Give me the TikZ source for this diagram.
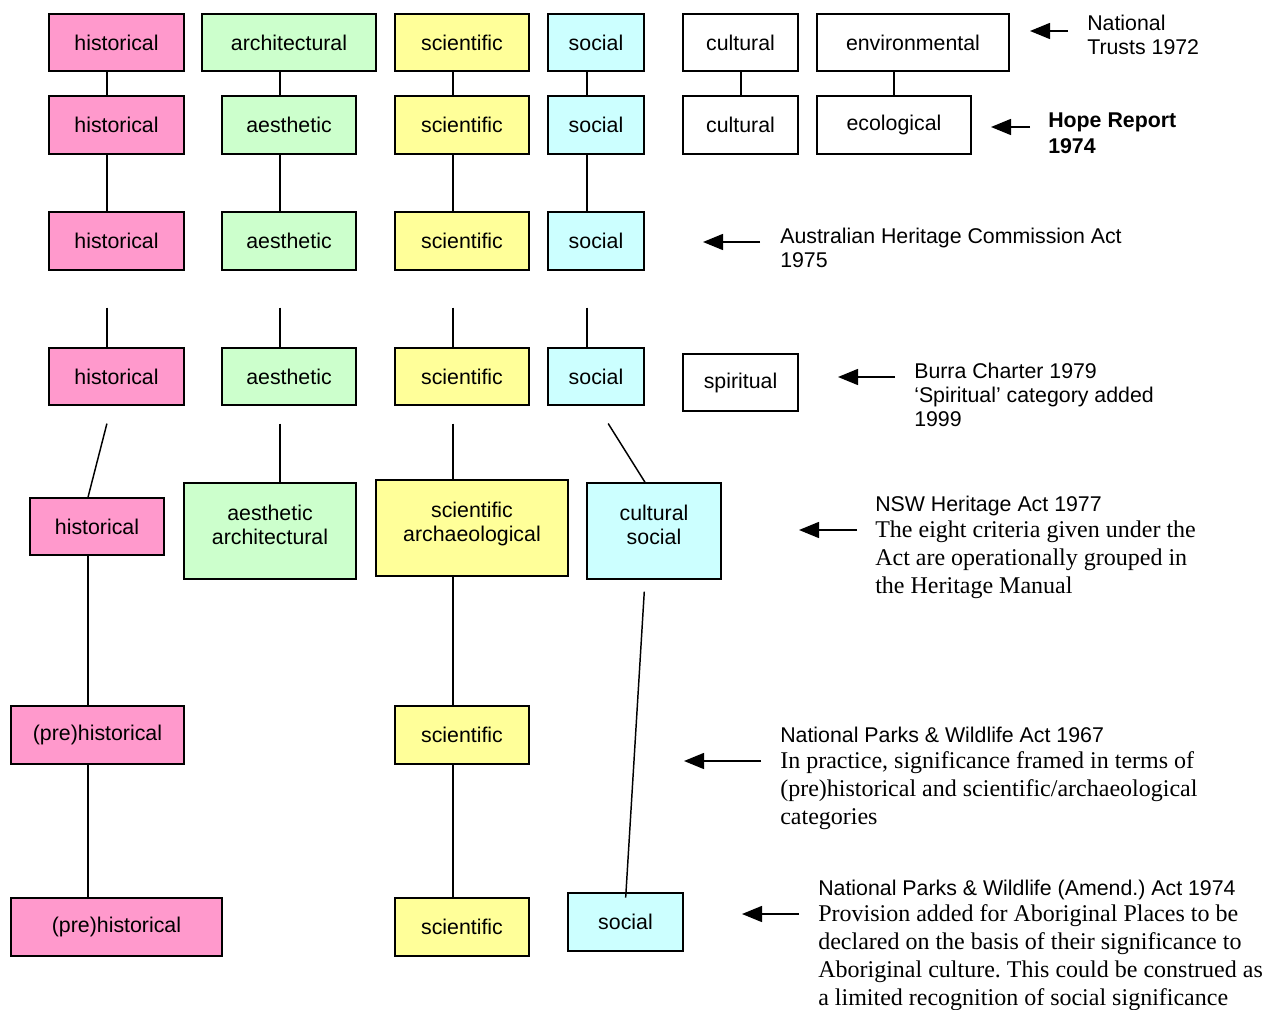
\documentclass[tikz,border=0pt]{standalone}
\usepackage{fontspec}
\setmainfont{Liberation Serif}
\setsansfont{Liberation Sans}
\usepackage{tikz}
\usetikzlibrary{arrows.meta}
\definecolor{pinkbox}{RGB}{255,153,204}
\definecolor{greenbox}{RGB}{204,255,204}
\definecolor{yellowbox}{RGB}{255,255,153}
\definecolor{cyanbox}{RGB}{204,255,255}
\frenchspacing

\begin{document}
\begin{tikzpicture}[x=0.75pt, y=-0.75pt,
    catbox/.style 2 args={draw, line width=1.1pt, inner sep=0pt, align=center,
        minimum width=#1*0.75pt, minimum height=#2*0.75pt,
        font=\sffamily\fontsize{16}{18}\selectfont},
    link/.style={line width=1.1pt},
    gaplink/.style={link, shorten <=#1*0.75pt},
    pointer/.style={line width=1.1pt, -{Triangle[length=15pt, width=12pt]}},
    note/.style={anchor=base west, inner sep=0pt, align=left,
        font=\sffamily\fontsize{16}{18}\selectfont},
    prose/.style={note, font=\rmfamily\fontsize{18}{21}\selectfont}]
    \useasboundingbox (0,0) rectangle (1279,1010);

    % columns of the connectors
    \coordinate (colH) at (107,0);
    \coordinate (colA) at (280,0);
    \coordinate (colS) at (453,0);
    \coordinate (colO) at (587,0);
    \coordinate (colC) at (741,0);
    \coordinate (colE) at (894,0);
    \coordinate (colP) at (88,0);
    \coordinate (colK) at (111.5,0);
    \coordinate (colQ) at (597,0);
    \coordinate (colR) at (645,0);
    \coordinate (colT) at (626,0);

    % National Trusts 1972
    \node[catbox={135}{57}, fill=pinkbox] (h1) at (116.5,42.5) {historical};
    \node[catbox={174}{57}, fill=greenbox] (ar1) at (289,42.5) {architectural};
    \node[catbox={134}{57}, fill=yellowbox] (sc1) at (462,42.5) {scientific};
    \node[catbox={96}{57}, fill=cyanbox] (so1) at (596,42.5) {social};
    \node[catbox={115}{57}] (cu1) at (740.5,42.5) {cultural};
    \node[catbox={192}{57}] (en1) at (913,42.5) {environmental};

    % Hope Report 1974
    \node[catbox={135}{58}, fill=pinkbox] (h2) at (116.5,125) {historical};
    \node[catbox={134}{58}, fill=greenbox] (ae2) at (289,125) {aesthetic};
    \node[catbox={134}{58}, fill=yellowbox] (sc2) at (462,125) {scientific};
    \node[catbox={96}{58}, fill=cyanbox] (so2) at (596,125) {social};
    \node[catbox={115}{58}] (cu2) at (740.5,125) {cultural};
    \node[catbox={154}{58}] (ec2) at (894,125) {ecological};

    % Australian Heritage Commission Act 1975
    \node[catbox={135}{58}, fill=pinkbox] (h3) at (116.5,241) {historical};
    \node[catbox={134}{58}, fill=greenbox] (ae3) at (289,241) {aesthetic};
    \node[catbox={134}{58}, fill=yellowbox] (sc3) at (462,241) {scientific};
    \node[catbox={96}{58}, fill=cyanbox] (so3) at (596,241) {social};

    % Burra Charter 1979
    \node[catbox={135}{57}, fill=pinkbox] (h4) at (116.5,376.5) {historical};
    \node[catbox={134}{57}, fill=greenbox] (ae4) at (289,376.5) {aesthetic};
    \node[catbox={134}{57}, fill=yellowbox] (sc4) at (462,376.5) {scientific};
    \node[catbox={96}{57}, fill=cyanbox] (so4) at (596,376.5) {social};
    \node[catbox={115}{57}] (sp4) at (740.5,382.5) {spiritual};

    % NSW Heritage Act 1977
    \node[catbox={134}{57}, fill=pinkbox] (h5) at (97,526.5) {historical};
    \node[catbox={172}{96}, fill=greenbox] (ae5) at (270,531) {aesthetic\\architectural\\[-9pt]\mbox{}};
    \node[catbox={192}{96}, fill=yellowbox] (sc5) at (472,528) {scientific\\archaeological\\[-9pt]\mbox{}};
    \node[catbox={134}{96}, fill=cyanbox] (cs5) at (654,531) {cultural\\social\\[-9pt]\mbox{}};

    % National Parks & Wildlife Act 1967
    \node[catbox={173}{58}, fill=pinkbox] (ph6) at (97.5,735) {(pre)historical};
    \node[catbox={134}{58}, fill=yellowbox] (sc6) at (462,735) {scientific};

    % National Parks & Wildlife (Amend.) Act 1974
    \node[catbox={211}{58}, fill=pinkbox] (ph7) at (116.5,927) {(pre)historical};
    \node[catbox={134}{58}, fill=yellowbox] (sc7) at (462,927) {scientific};
    \node[catbox={115}{58}, fill=cyanbox] (so7) at (625.5,922) {social};

    % links between the rows
    \draw[link] (h1.south -| colH) -- (h2.north -| colH);
    \draw[link] (ar1.south -| colA) -- (ae2.north -| colA);
    \draw[link] (sc1.south -| colS) -- (sc2.north -| colS);
    \draw[link] (so1.south -| colO) -- (so2.north -| colO);
    \draw[link] (cu1.south -| colC) -- (cu2.north -| colC);
    \draw[link] (en1.south -| colE) -- (ec2.north -| colE);

    \draw[link] (h2.south -| colH) -- (h3.north -| colH);
    \draw[link] (ae2.south -| colA) -- (ae3.north -| colA);
    \draw[link] (sc2.south -| colS) -- (sc3.north -| colS);
    \draw[link] (so2.south -| colO) -- (so3.north -| colO);

    \draw[gaplink=37] (h3.south -| colH) -- (h4.north -| colH);
    \draw[gaplink=37] (ae3.south -| colA) -- (ae4.north -| colA);
    \draw[gaplink=37] (sc3.south -| colS) -- (sc4.north -| colS);
    \draw[gaplink=37] (so3.south -| colO) -- (so4.north -| colO);

    \draw[gaplink=18.5] (h4.south -| colK) -- (h5.north -| colP);
    \draw[gaplink=18] (ae4.south -| colA) -- (ae5.north -| colA);
    \draw[gaplink=18] (sc4.south -| colS) -- (sc5.north -| colS);
    \draw[gaplink=21] (so4.south -| colQ) -- (cs5.north -| colR);

    \draw[link] (h5.south -| colP) -- (ph6.north -| colP);
    \draw[link] (sc5.south -| colS) -- (sc6.north -| colS);
    \draw[link] (ph6.south -| colP) -- (ph7.north -| colP);
    \draw[link] (sc6.south -| colS) -- (sc7.north -| colS);
    \draw[gaplink=12, shorten >=-4pt] (cs5.south -| colR) -- (so7.north -| colT);

    % arrows to the notes
    \coordinate (ntTail) at (1068,31);  \coordinate (ntTip) at (1030,31);
    \coordinate (hrTail) at (1030,127); \coordinate (hrTip) at (991,127);
    \coordinate (ahTail) at (760,242);  \coordinate (ahTip) at (703,242);
    \coordinate (bcTail) at (895,377);  \coordinate (bcTip) at (838,377);
    \coordinate (nsTail) at (857,530);  \coordinate (nsTip) at (799,530);
    \coordinate (npTail) at (761,761);  \coordinate (npTip) at (684,761);
    \coordinate (naTail) at (799,914);  \coordinate (naTip) at (742,914);
    \draw[pointer] (ntTail) -- (ntTip);
    \draw[pointer] (hrTail) -- (hrTip);
    \draw[pointer] (ahTail) -- (ahTip);
    \draw[pointer] (bcTail) -- (bcTip);
    \draw[pointer] (nsTail) -- (nsTip);
    \draw[pointer] (npTail) -- (npTip);
    \draw[pointer] (naTail) -- (naTip);

    % notes (placed by the baseline of their last line)
    \node[note] (ntNote) at (1087,55) {National\\Trusts 1972};
    \node[note, font=\sffamily\bfseries\fontsize{16}{19}\selectfont] (hrNote) at (1048,153) {Hope Report\\1974};
    \node[note] (ahNote) at (780,267) {Australian Heritage Commission Act\\1975};
    \node[note] (bcNote) at (914,426) {Burra Charter 1979\\‘Spiritual’ category added\\1999};
    \node[prose] (nsNote) at (875,593) {{\sffamily\fontsize{16}{18}\selectfont NSW Heritage Act 1977}\\[-2pt]
        The eight criteria given under the\\Act are operationally grouped in\\the Heritage Manual};
    \node[prose] (npNote) at (780,824) {{\sffamily\fontsize{16}{18}\selectfont National Parks \& Wildlife Act 1967}\\[-2pt]
        In practice, significance framed in terms of\\(pre)historical and scientific/archaeological\\categories};
    \node[prose] (naNote) at (818,1005) {{\sffamily\fontsize{16}{18}\selectfont National Parks \& Wildlife (Amend.) Act 1974}\\[-2pt]
        Provision added for Aboriginal Places to be\\declared on the basis of their significance to\\Aboriginal culture. This could be construed as\\a limited recognition of social significance};
\end{tikzpicture}
\end{document}
